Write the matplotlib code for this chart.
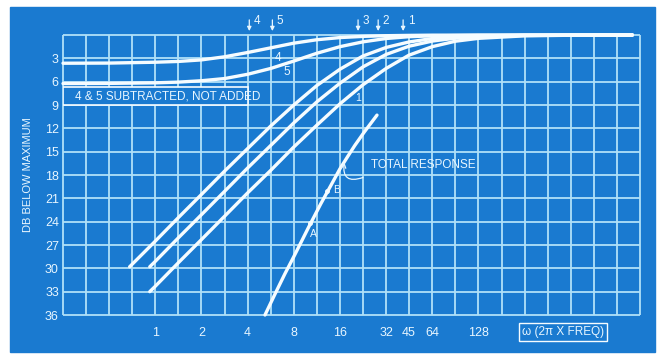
import numpy as np
import matplotlib.pyplot as plt
from matplotlib.patches import Rectangle

# omega values (x) and dB below maximum (y)
curve1_w = [0.68, 1, 1.41, 2, 2.83, 4, 5.66, 8, 11.3, 16, 22.6, 32, 45, 64, 128, 256, 1290]
curve1_db = [29.8, 26.5, 23.5, 20.5, 17.5, 14.6, 11.7, 9.0, 6.5, 4.4, 2.7, 1.6, 0.9, 0.45, 0.12, 0.03, 0.0]

curve2_w = [0.92, 1, 1.41, 2, 2.83, 4, 5.66, 8, 11.3, 16, 22.6, 32, 45, 64, 90.5, 128, 256, 1290]
curve2_db = [29.8, 29.1, 26.1, 23.1, 20.1, 17.1, 14.2, 11.3, 8.6, 6.2, 4.1, 2.5, 1.45, 0.78, 0.41, 0.21, 0.05, 0.0]

curve3_w = [0.92, 1, 1.41, 2, 2.83, 4, 5.66, 8, 11.3, 16, 22.6, 32, 45, 64, 90.5, 128, 256, 512, 1290]
curve3_db = [33.0, 32.3, 29.3, 26.3, 23.3, 20.3, 17.4, 14.4, 11.6, 8.85, 6.4, 4.3, 2.6, 1.5, 0.8, 0.43, 0.11, 0.03, 0.0]

curve4_w = [0.25, 0.5, 1, 1.41, 2, 2.83, 4, 5.66, 8, 11.3, 16, 22.6, 32, 45, 64, 1290]
curve4_db = [3.63, 3.61, 3.5, 3.4, 3.2, 2.8, 2.25, 1.65, 1.05, 0.61, 0.33, 0.18, 0.09, 0.05, 0.02, 0.0]

curve5_w = [0.25, 0.5, 1, 1.41, 2, 2.83, 4, 5.66, 8, 11.3, 16, 22.6, 32, 45, 64, 128, 1290]
curve5_db = [6.24, 6.22, 6.15, 6.06, 5.88, 5.6, 5.05, 4.3, 3.35, 2.35, 1.5, 0.88, 0.45, 0.22, 0.11, 0.03, 0.0]

total_w = [5.19, 6.0, 7.0, 8.0, 9.0, 10.0, 12.0, 14.0, 16.0, 18.0, 20.0, 23.0, 27.9]
total_db = [36.0, 33.4, 30.7, 28.5, 26.5, 24.7, 21.7, 19.3, 17.2, 15.6, 14.2, 12.5, 10.3]

# corner frequency arrows along the top
corner_w = [4.1, 5.8, 21, 28.4, 41.3]
corner_labels = ["4", "5", "3", "2", "1"]

x_ticks = [1, 2, 4, 8, 16, 32, 45, 64, 128]
x_labels = ["1", "2", "4", "8", "16", "32", "45", "64", "128"]
y_ticks = [3, 6, 9, 12, 15, 18, 21, 24, 27, 30, 33, 36]

blue = "#1a7ad0"
grid_c = "#b0e0f8"
line_c = "#f6fcff"
text_c = "#e8f6ff"
font = ["Liberation Sans", "DejaVu Sans"]

fig = plt.figure(figsize=(6.64, 3.57), dpi=100)
fig.patches.append(Rectangle((10 / 664, 5 / 357), 645 / 664, 345 / 357,
                             transform=fig.transFigure, color=blue, zorder=-5))

ax = fig.add_axes([63 / 664, 42 / 357, 577 / 664, 280 / 357])
ax.set_zorder(2)
ax.set_facecolor("none")
ax.set_xscale("log", base=2)
xmin, xmax = 0.25, 0.25 * 2 ** 12.5
ax.set_xlim(xmin, xmax)
ax.set_ylim(36, 0)
for s in ax.spines.values():
    s.set_visible(False)

# grid: half-octave columns, 3 dB rows
grid_x = xmin * 2 ** (np.arange(26) / 2)
ax.vlines(grid_x, 0, 36, color=grid_c, lw=1.3, clip_on=False, zorder=1)
ax.hlines(np.arange(0, 37, 3), xmin, xmax, color=grid_c, lw=1.3, clip_on=False, zorder=1)

for w, db in [(curve1_w, curve1_db), (curve2_w, curve2_db), (curve3_w, curve3_db),
              (curve4_w, curve4_db), (curve5_w, curve5_db), (total_w, total_db)]:
    ax.plot(w, db, color=line_c, lw=2.4, solid_capstyle="round", clip_on=False, zorder=3)

ax.set_xticks(x_ticks)
ax.set_xticklabels(x_labels)
ax.xaxis.set_minor_locator(plt.NullLocator())
ax.set_yticks(y_ticks)
ax.tick_params(length=0, colors=text_c, labelsize=9)
ax.tick_params(axis="x", pad=9)
ax.tick_params(axis="y", pad=3)
for lab in ax.get_xticklabels() + ax.get_yticklabels():
    lab.set_family(font)

ax.set_ylabel("DB BELOW MAXIMUM", color=text_c, fontsize=8, family=font)
ax.yaxis.set_label_coords(-0.052, 0.5)

# arrows marking corner frequencies
for w, lab in zip(corner_w, corner_labels):
    ax.annotate("", xy=(w, -0.15), xytext=(w, -2.3), annotation_clip=False,
                arrowprops=dict(arrowstyle="-|>", color=text_c, lw=0.9, mutation_scale=6))
    ax.text(w * 1.07, -1.75, lab, color=text_c, fontsize=8.5, family=font,
            ha="left", va="center", clip_on=False)

# curve labels
ax.text(6.3, 2.9, "4", color=text_c, fontsize=8.5, family=font, ha="center", va="center")
ax.text(7.2, 4.8, "5", color=text_c, fontsize=8.5, family=font, ha="center", va="center")
ax.text(21, 8.1, "1", color=text_c, fontsize=7.5, family=font, ha="center", va="center")

# points A and B on total response
ax.plot([10.2, 13.2], [24.2, 20.0], "o", color=line_c, ms=2.5, zorder=4)
ax.text(10.8, 25.6, "A", color=text_c, fontsize=7.5, family=font, ha="center", va="center")
ax.text(15.1, 19.9, "B", color=text_c, fontsize=7.5, family=font, ha="center", va="center")

# note box
ax.add_patch(Rectangle((xmin, 6.7), 4 - xmin, 2.3, facecolor=blue, edgecolor=line_c,
                       lw=1.2, zorder=2))
ax.text(0.3, 7.9, "4 & 5 SUBTRACTED, NOT ADDED", color=text_c, fontsize=8.5,
        family=font, ha="left", va="center", zorder=4)

ax.text(25.5, 16.7, "TOTAL RESPONSE", color=text_c, fontsize=8.5, family=font,
        ha="left", va="center")
ax.annotate("", xy=(17.2, 16.0), xytext=(23.5, 18.2),
            arrowprops=dict(arrowstyle="->", color=text_c, lw=0.9,
                            connectionstyle="arc3,rad=-0.9", mutation_scale=8))

ax.text(0.867, -0.062, "\u03c9 (2\u03c0 X FREQ)", transform=ax.transAxes, color=text_c,
        fontsize=8.5, family=font, ha="center", va="center",
        bbox=dict(boxstyle="square,pad=0.25", facecolor=blue, edgecolor=line_c, lw=1))

fig.savefig("out.png", dpi=100)
